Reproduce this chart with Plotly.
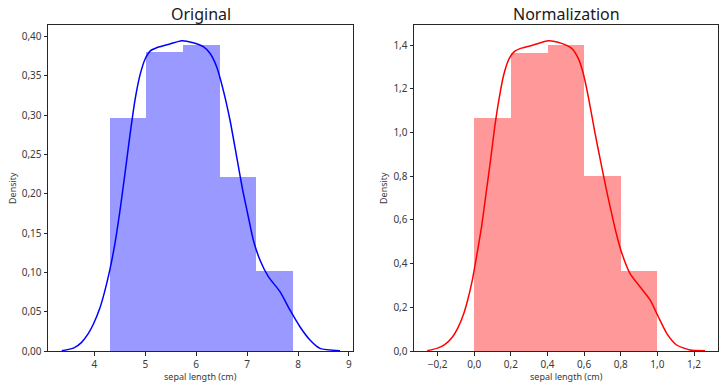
import plotly.graph_objects as go

# ---- data ----
orig_bin_edges = [4.3, 5.02, 5.74, 6.46, 7.18, 7.9]
orig_density = [0.296, 0.380, 0.389, 0.222, 0.102]
norm_bin_edges = [0.0, 0.2, 0.4, 0.6, 0.8, 1.0]
norm_density = [1.067, 1.367, 1.400, 0.800, 0.367]

orig_kde_x = [3.36, 3.6, 3.75, 3.88, 3.98, 4.1, 4.2, 4.3, 4.4, 4.5, 4.6, 4.7, 4.8, 4.9, 5.0,
              5.1, 5.224, 5.289, 5.486, 5.715, 5.943, 6.14, 6.271, 6.402, 6.532, 6.664, 6.795,
              6.913, 7.024, 7.122, 7.253, 7.417, 7.646, 7.842, 8.038, 8.235, 8.431, 8.824]
orig_kde_y = [0.0004, 0.004, 0.011, 0.022, 0.034, 0.053, 0.075, 0.102, 0.135, 0.177, 0.225,
              0.275, 0.320, 0.352, 0.372, 0.382, 0.386, 0.3873, 0.3907, 0.3949, 0.3923, 0.3873,
              0.3789, 0.3618, 0.3321, 0.294, 0.2473, 0.2049, 0.1709, 0.1413, 0.1158, 0.0946,
              0.0755, 0.0522, 0.0309, 0.014, 0.0034, 0.0004]

norm_kde_x = [-0.257, -0.2, -0.16, -0.12, -0.09, -0.06, -0.035, -0.01, 0.015, 0.04, 0.065, 0.09,
              0.11, 0.135, 0.16, 0.19, 0.22, 0.253, 0.322, 0.404, 0.477, 0.532, 0.568, 0.595,
              0.623, 0.659, 0.692, 0.720, 0.750, 0.778, 0.805, 0.850, 0.905, 0.960, 1.005,
              1.051, 1.105, 1.178, 1.26]
norm_kde_y = [0.0014, 0.013, 0.03, 0.063, 0.105, 0.165, 0.236, 0.327, 0.445, 0.57, 0.725, 0.88,
              1.015, 1.152, 1.262, 1.338, 1.372, 1.386, 1.401, 1.421, 1.409, 1.386, 1.340, 1.272,
              1.164, 1.0, 0.86, 0.745, 0.63, 0.530, 0.450, 0.356, 0.294, 0.234, 0.157,
              0.081, 0.0275, 0.0046, 0.0014]

orig_xticks = [4, 5, 6, 7, 8, 9]
orig_yticks = [0.0, 0.05, 0.10, 0.15, 0.20, 0.25, 0.30, 0.35, 0.40]
norm_xticks = [-0.2, 0.0, 0.2, 0.4, 0.6, 0.8, 1.0, 1.2]
norm_yticks = [0.0, 0.2, 0.4, 0.6, 0.8, 1.0, 1.2, 1.4]
titles = ["Original", "Normalization"]
x_label = "sepal length (cm)"
y_label = "Density"

FONT = "Noto Sans"
fig = go.Figure()

def bars(edges, heights, color, xa, ya):
    centers = [(a + b) / 2 for a, b in zip(edges[:-1], edges[1:])]
    widths = [b - a for a, b in zip(edges[:-1], edges[1:])]
    fig.add_trace(go.Bar(x=centers, y=heights, width=widths, marker=dict(color=color, line=dict(width=0)),
                         xaxis=xa, yaxis=ya, showlegend=False))

bars(orig_bin_edges, orig_density, "#9999ff", "x", "y")
fig.add_trace(go.Scatter(x=orig_kde_x, y=orig_kde_y, mode="lines",
                         line=dict(color="#0000ff", width=1.5, shape="spline", smoothing=0.6),
                         xaxis="x", yaxis="y", showlegend=False))
bars(norm_bin_edges, norm_density, "#ff9999", "x2", "y2")
fig.add_trace(go.Scatter(x=norm_kde_x, y=norm_kde_y, mode="lines",
                         line=dict(color="#ff0000", width=1.5, shape="spline", smoothing=0.6),
                         xaxis="x2", yaxis="y2", showlegend=False))

axis_common = dict(showline=True, linecolor="#262626", linewidth=1, mirror=True, ticks="outside",
                   ticklen=3.5, tickcolor="#262626", showgrid=False, zeroline=False, automargin=False,
                   tickfont=dict(family=FONT, size=10, color="#3a3a3a"))

dom1 = [48 / 725, 353 / 725]
dom2 = [414 / 725, 718 / 725]
ydom = [1 - 351 / 388, 1 - 25 / 388]

fig.update_layout(
    width=725, height=388, margin=dict(l=0, r=0, t=0, b=0, autoexpand=False),
    paper_bgcolor="white", plot_bgcolor="white", separators=",.", bargap=0,
    xaxis=dict(domain=dom1, range=[3.09, 9.08], tickvals=orig_xticks, anchor="y", **axis_common),
    yaxis=dict(domain=ydom, range=[0, 0.4149], tickvals=orig_yticks, tickformat=".2f", anchor="x", **axis_common),
    xaxis2=dict(domain=dom2, range=[-0.329, 1.331], tickvals=norm_xticks, tickformat=".1f", anchor="y2", **axis_common),
    yaxis2=dict(domain=ydom, range=[0, 1.493], tickvals=norm_yticks, tickformat=".1f", anchor="x2", **axis_common),
)

anns = []
for dom, t in zip([dom1, dom2], titles):
    anns.append(dict(text=t, x=(dom[0] + dom[1]) / 2, y=1 - 14 / 388, xref="paper", yref="paper",
                     showarrow=False, font=dict(family=FONT, size=16, color="#1a1a1a"), xanchor="center", yanchor="middle"))
    anns.append(dict(text=x_label, x=(dom[0] + dom[1]) / 2, y=1 - 376 / 388, xref="paper", yref="paper",
                     showarrow=False, font=dict(family=FONT, size=9, color="#3a3a3a"), xanchor="center", yanchor="middle"))
anns.append(dict(text=y_label, x=12 / 725, y=(ydom[0] + ydom[1]) / 2, xref="paper", yref="paper", textangle=-90,
                 showarrow=False, font=dict(family=FONT, size=9, color="#3a3a3a"), xanchor="center", yanchor="middle"))
anns.append(dict(text=y_label, x=383 / 725, y=(ydom[0] + ydom[1]) / 2, xref="paper", yref="paper", textangle=-90,
                 showarrow=False, font=dict(family=FONT, size=9, color="#3a3a3a"), xanchor="center", yanchor="middle"))
fig.update_layout(annotations=anns)

fig.write_html("out.html", config={"displayModeBar": False},
               post_script="document.body.style.margin='0';document.body.style.padding='0';document.body.style.overflow='hidden';")
